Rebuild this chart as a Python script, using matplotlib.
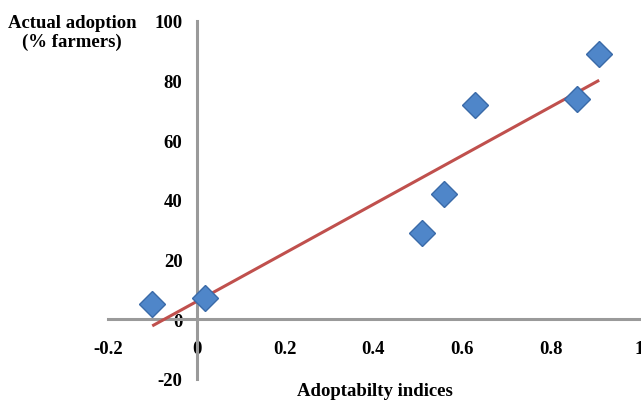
import matplotlib
matplotlib.use("Agg")
import matplotlib.pyplot as plt
import numpy as np

x_vals = [-0.10, 0.02, 0.51, 0.56, 0.63, 0.86, 0.91]
y_vals = [5, 7, 29, 42, 72, 74, 89]
xticks = [-0.2, 0, 0.2, 0.4, 0.6, 0.8, 1]
xtick_labels = ["-0.2", "0", "0.2", "0.4", "0.6", "0.8", "1"]
yticks = [-20, 0, 20, 40, 60, 80, 100]
ytick_labels = ["-20", "0", "20", "40", "60", "80", "100"]

plt.rcParams['font.family'] = ['Liberation Serif', 'DejaVu Serif']
FS = 13.5
fig = plt.figure(figsize=(6.41, 4.02), dpi=100)
ax = fig.add_axes([108/641, (402-380)/402, (639-108)/641, (380-22)/402])
ax.set_xlim(-0.2, 1)
ax.set_ylim(-20, 100)

for s in ['top', 'right']:
    ax.spines[s].set_visible(False)
ax.spines['left'].set_position(('data', 0))
ax.spines['bottom'].set_position(('data', 0))
for s in ['left', 'bottom']:
    ax.spines[s].set_color('#9a9a9a')
    ax.spines[s].set_linewidth(2.2)

ax.set_xticks(xticks)
ax.set_xticklabels(xtick_labels, fontsize=FS, fontweight='bold')
ax.set_yticks(yticks)
ax.set_yticklabels(ytick_labels, fontsize=FS, fontweight='bold')
ax.tick_params(axis='x', length=0, pad=15)
ax.tick_params(axis='y', length=0, pad=10)

xs = np.array(x_vals)
ys = np.array(y_vals)
m, b = np.polyfit(xs, ys, 1)
xl = np.array([xs.min(), xs.max()])
ax.plot(xl, m*xl + b, color='#c0504d', lw=2.2, zorder=3, solid_capstyle='butt')
ax.plot(xs, ys, linestyle='none', marker='D', markersize=13,
        markerfacecolor='#4f86c9', markeredgecolor='#3a6aa8', markeredgewidth=1, zorder=4)

fig.text(72/641, 1-33/402, "Actual adoption\n(% farmers)", ha='center', va='center',
         fontsize=FS, fontweight='bold', linespacing=1.15)
fig.text(375/641, 1-392/402, "Adoptabilty indices", ha='center', va='center',
         fontsize=FS, fontweight='bold')

fig.savefig("out.png", dpi=100)
